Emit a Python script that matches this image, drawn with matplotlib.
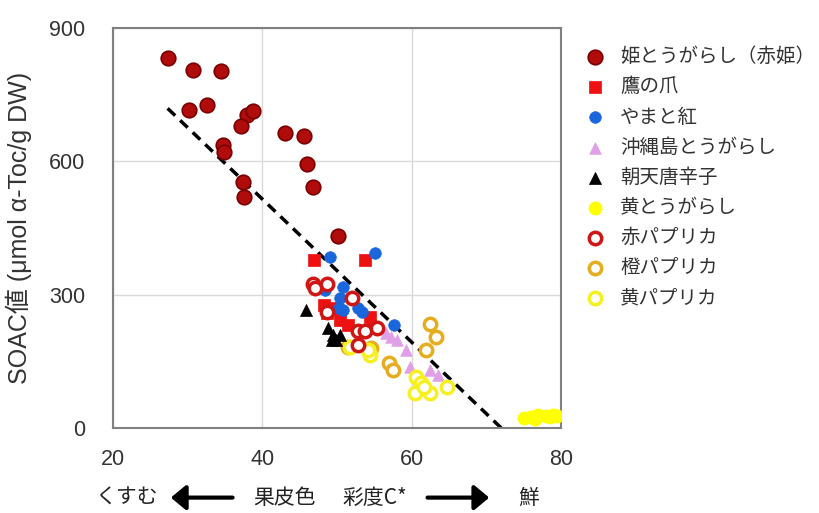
import matplotlib
matplotlib.use("Agg")
import matplotlib.pyplot as plt
from matplotlib.patches import FancyArrowPatch

plt.rcParams['font.family'] = ['Liberation Sans', 'Noto Sans CJK JP', 'DejaVu Sans']
JP = ['Noto Sans CJK JP', 'DejaVu Sans']

# ---- data ----
hime_x = [27.3, 30.7, 34.4, 30.2, 32.6, 38.0, 38.8, 37.1, 34.7, 34.9, 43.0, 45.6, 46.0, 46.8, 37.4, 37.5, 50.1]
hime_y = [832, 807, 803, 715, 727, 704, 713, 679, 637, 622, 663, 657, 594, 543, 554, 520, 432]

taka_x = [46.9, 53.7, 48.2, 48.7, 50.4, 51.5, 54.4, 54.8, 49.5]
taka_y = [379, 378, 277, 258, 243, 232, 249, 228, 270]

yamato_x = [55.1, 49.0, 50.8, 50.4, 50.2, 50.8, 52.8, 53.3, 48.4, 57.7]
yamato_y = [393, 384, 318, 292, 269, 266, 269, 262, 310, 232]

okinawa_x = [56.6, 58.0, 59.3, 59.8, 62.4, 63.5, 57.2]
okinawa_y = [213, 198, 176, 138, 130, 119, 205]

chotian_x = [45.9, 48.8, 49.5, 49.9, 49.3, 50.4]
chotian_y = [266, 224, 209, 198, 198, 209]

ki_x = [75.0, 76.0, 77.0, 78.0, 79.0, 79.5, 76.5, 78.5]
ki_y = [22, 25, 28, 26, 30, 27, 20, 24]

akapap_x = [46.8, 47.0, 48.7, 52.0, 48.6, 52.8, 53.7, 55.3, 52.8]
akapap_y = [325, 314, 325, 292, 262, 217, 217, 224, 187]

daipap_x = [51.5, 54.6, 62.5, 63.2, 61.9, 56.9, 57.5]
daipap_y = [183, 179, 234, 204, 176, 146, 131]

kipap_x = [51.7, 54.4, 54.1, 60.6, 61.3, 60.4, 62.4, 61.7, 64.7]
kipap_y = [183, 164, 175, 115, 100, 78, 78, 93, 93]

trend_slope = -16.1
trend_intercept = 1159.0
trend_range = [27.3, 72.0]

labels = ['姫とうがらし（赤姫）', '鷹の爪', 'やまと紅', '沖縄島とうがらし', '朝天唐辛子',
          '黄とうがらし', '赤パプリカ', '橙パプリカ', '黄パプリカ']
x_ticks = [20, 40, 60, 80]
y_ticks = [0, 300, 600, 900]

# ---- figure ----
fig = plt.figure(figsize=(8.2, 5.13), dpi=100)
ax = fig.add_axes([0.138, 0.166, 0.546, 0.779])

ax.set_xlim(20, 80)
ax.set_ylim(0, 900)
ax.set_xticks(x_ticks)
ax.set_yticks(y_ticks)
ax.grid(True, color='#d9d9d9', lw=1)
ax.set_axisbelow(True)
for s in ax.spines.values():
    s.set_color('#808080')
    s.set_linewidth(1.5)
ax.tick_params(length=0, labelsize=15.5, colors='#333333')
ax.tick_params(axis='y', pad=20)
ax.tick_params(axis='x', pad=15)

tx = trend_range
ty = [trend_intercept + trend_slope * v for v in tx]
ax.plot(tx, ty, color='black', lw=2.5, ls=(0, (3, 2)), zorder=2)

h = []
h.append(ax.scatter(hime_x, hime_y, s=110, marker='o', color='#b00c0c', edgecolors='#7a0000', linewidths=1.2, zorder=3))
h.append(ax.scatter(taka_x, taka_y, s=80, marker='s', color='#ee1111', edgecolors='#ee1111', linewidths=0.5, zorder=4))
h.append(ax.scatter(yamato_x, yamato_y, s=70, marker='o', color='#1a66dd', edgecolors='#1a66dd', linewidths=0.5, zorder=4))
h.append(ax.scatter(okinawa_x, okinawa_y, s=70, marker='^', color='#e0a0e8', edgecolors='#e0a0e8', linewidths=0.5, zorder=4))
h.append(ax.scatter(chotian_x, chotian_y, s=75, marker='^', color='black', edgecolors='black', linewidths=0.5, zorder=5))
h.append(ax.scatter(ki_x, ki_y, s=90, marker='o', color='#ffff00', edgecolors='#ffff00', linewidths=0.5, zorder=4))
h.append(ax.scatter(akapap_x, akapap_y, s=80, marker='o', facecolors='white', edgecolors='#d01515', linewidths=2.5, zorder=5))
h.append(ax.scatter(daipap_x, daipap_y, s=80, marker='o', facecolors='white', edgecolors='#e5ad1f', linewidths=2.5, zorder=4))
h.append(ax.scatter(kipap_x, kipap_y, s=80, marker='o', facecolors='white', edgecolors='#f6f020', linewidths=2.5, zorder=4))

leg = fig.legend(h, labels, loc='upper left', bbox_to_anchor=(0.697, 0.925), frameon=False,
                 prop={'family': JP, 'size': 14}, handletextpad=0.5, handlelength=1.6,
                 labelspacing=0.47, borderaxespad=0, scatterpoints=1, labelcolor='#333333')

ax.set_ylabel('SOAC値 (μmol α-Toc/g DW)', fontsize=18, color='#333333', labelpad=12)

# x-axis description with arrows
yb = 0.03
fig.text(0.155, yb, 'くすむ', fontsize=15, ha='center', va='center', color='#222222', family=JP)
fig.text(0.347, yb, '果皮色', fontsize=15, ha='center', va='center', color='#222222', family=JP)
fig.text(0.457, yb, '彩度C*', fontsize=15, ha='center', va='center', color='#222222', family=JP)
fig.text(0.645, yb, '鮮', fontsize=15, ha='center', va='center', color='#222222', family=JP)
fig.add_artist(FancyArrowPatch((0.287, yb), (0.205, yb), transform=fig.transFigure,
                               arrowstyle='-|>,head_length=6,head_width=5', lw=3, color='black',
                               mutation_scale=1.5))
fig.add_artist(FancyArrowPatch((0.518, yb), (0.600, yb), transform=fig.transFigure,
                               arrowstyle='-|>,head_length=6,head_width=5', lw=3, color='black',
                               mutation_scale=1.5))

fig.savefig('out.png', dpi=100)
